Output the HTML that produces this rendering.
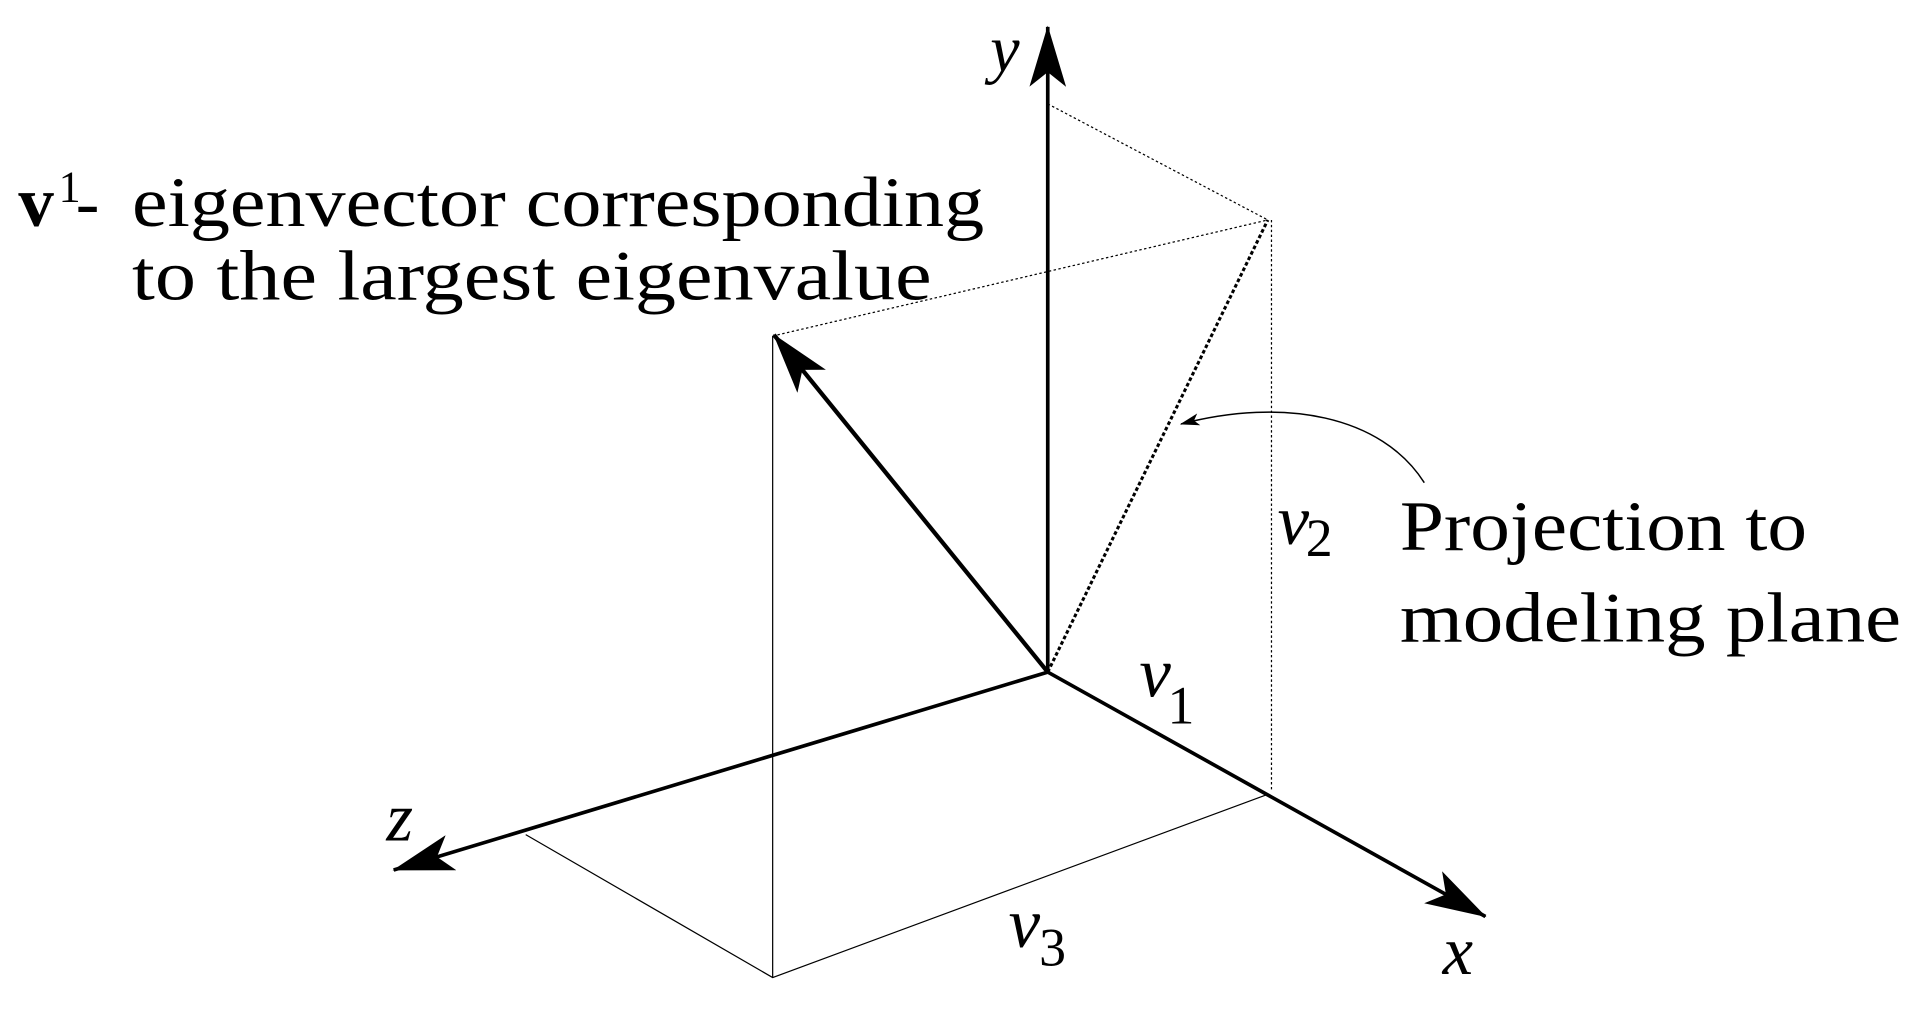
<!DOCTYPE html>
<html><head><style>
html,body{margin:0;padding:0;background:#fff;width:1917px;height:1024px;overflow:hidden}
svg{display:block}
text{font-family:"Liberation Serif",serif;fill:#000}
</style></head><body>
<svg width="1917" height="1024" viewBox="0 0 1568 838" preserveAspectRatio="none">
<defs>
<marker id="ahb" viewBox="0 0 50 30" refX="49" refY="15" markerWidth="50" markerHeight="30" markerUnits="userSpaceOnUse" orient="auto">
<path d="M0,0 L50,15 L0,30 L12,15 Z" fill="#000"/></marker>
<marker id="ahs" viewBox="0 0 16 10" refX="15" refY="5" markerWidth="16" markerHeight="10" markerUnits="userSpaceOnUse" orient="auto">
<path d="M0,0 L16,5 L0,10 L4,5 Z" fill="#000"/></marker>
</defs>
<g fill="none" stroke="#000">
<line x1="857" y1="550" x2="857" y2="22" stroke-width="3" marker-end="url(#ahb)"/>
<line x1="857" y1="550" x2="1215" y2="750" stroke-width="3" marker-end="url(#ahb)"/>
<line x1="857" y1="550" x2="322" y2="712" stroke-width="3" marker-end="url(#ahb)"/>
<line x1="857" y1="550" x2="633" y2="274" stroke-width="3.5" marker-end="url(#ahb)"/>
<line x1="857" y1="85" x2="1037" y2="180" stroke-width="1" stroke-dasharray="2,2"/>
<line x1="632" y1="275" x2="1037" y2="180" stroke-width="1" stroke-dasharray="2,2"/>
<line x1="857" y1="550" x2="1037" y2="180" stroke-width="2.5" stroke-dasharray="3,2"/>
<line x1="1040" y1="180" x2="1040" y2="648" stroke-width="1" stroke-dasharray="2,2"/>
<line x1="632" y1="275" x2="632" y2="800" stroke-width="1"/>
<polyline points="430,683 632,800 1037,650" stroke-width="1"/>
<path d="M1165,395 C1130,340 1050,325 966,347" stroke-width="1.2" marker-end="url(#ahs)"/>
</g>
<text x="810" y="58" font-size="54" font-style="italic">y</text>
<text x="15" y="185" font-size="58" font-weight="bold">v</text>
<text x="48" y="165" font-size="36">1</text>
<text x="62" y="185" font-size="58">-</text>
<text x="108" y="185" font-size="58" textLength="697" lengthAdjust="spacingAndGlyphs">eigenvector corresponding</text>
<text x="108" y="245" font-size="58" textLength="654" lengthAdjust="spacingAndGlyphs">to the largest eigenvalue</text>
<text x="1045" y="445" font-size="58" font-style="italic">v</text>
<text x="1068" y="455" font-size="44">2</text>
<text x="1145" y="450" font-size="58" textLength="333" lengthAdjust="spacingAndGlyphs">Projection to</text>
<text x="1145" y="525" font-size="58" textLength="410" lengthAdjust="spacingAndGlyphs">modeling plane</text>
<text x="932" y="570" font-size="58" font-style="italic">v</text>
<text x="955" y="592" font-size="44">1</text>
<text x="316" y="688" font-size="56" font-style="italic">z</text>
<text x="825" y="775" font-size="58" font-style="italic">v</text>
<text x="850" y="790" font-size="44">3</text>
<text x="1180" y="797" font-size="56" font-style="italic">x</text>
</svg>
</body></html>
